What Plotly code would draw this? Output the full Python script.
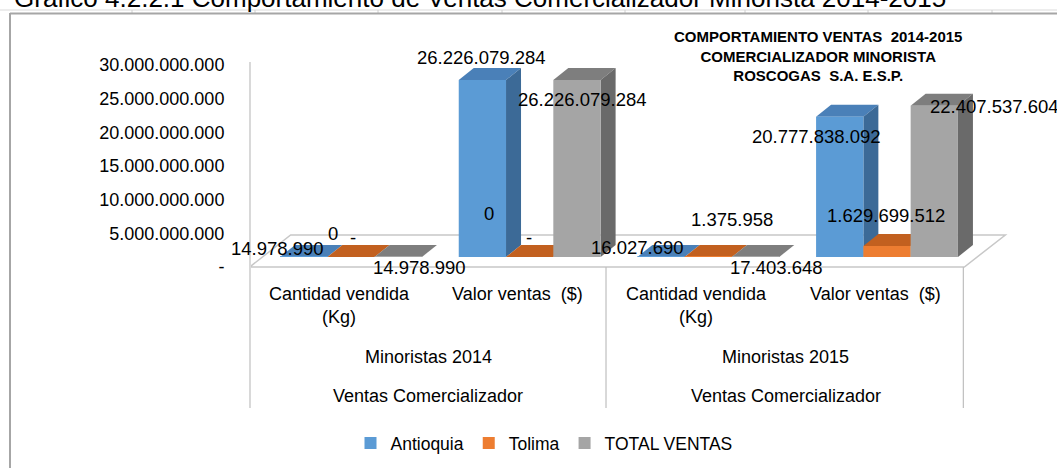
import plotly.graph_objects as go

# ---------------- data ----------------
subcategorias = ["Cantidad vendida<br>(Kg)", "Valor ventas  ($)",
                 "Cantidad vendida<br>(Kg)", "Valor ventas  ($)"]
anios = ["Minoristas 2014", "Minoristas 2015"]
grupo = "Ventas Comercializador"
series = ["Antioquia", "Tolima", "TOTAL VENTAS"]
antioquia = [14978990, 26226079284, 16027690, 20777838092]
tolima = [0, 0, 1375958, 1629699512]
total_ventas = [14978990, 26226079284, 17403648, 22407537604]
etiquetas_extra = ["0", "0", "", ""]
y_ticks = [0, 5e9, 10e9, 15e9, 20e9, 25e9, 30e9]
titulo_grafico = "Gráfico 4.2.2.1 Comportamiento de Ventas Comercializador Minorista 2014-2015"
titulo = ["COMPORTAMIENTO VENTAS  2014-2015", "COMERCIALIZADOR MINORISTA", "ROSCOGAS  S.A. E.S.P."]

# ---------------- styles / geometry ----------------
W, H = 1057, 468
FONT = "Liberation Sans"
front_col = ["#5B9BD5", "#ED7D31", "#A5A5A5"]
top_col = ["#4A80B8", "#C2601F", "#7E7E7E"]
side_col = ["#3C6A97", "#A4511A", "#6A6A6A"]

PX_X0, PX_X1 = 251, 1010        # plot area (pixels)
PX_Y0, PX_Y1 = 40, 280
CAT0_PX, CAT_STEP_PX = 351, 178.67
BASE_PX, PX_PER_UNIT = 257, 6.75e-9
LBL_BASE_PX, LBL_PX_PER_UNIT = 267, 6.73e-9
BARGAP = 0.206
DEPTH_X, DEPTH_Y = 15, 12       # 3D depth in px

def ux(px):
    return px / CAT_STEP_PX

def uy(px):
    return px / PX_PER_UNIT

def py(px):  # pixel row -> paper y
    return (H - px) / H

def pxp(px):  # pixel column -> paper x
    return px / W

def fmt(v):
    return "-" if v == 0 else f"{int(v):,}".replace(",", ".")

xrange_ = [(PX_X0 - CAT0_PX) / CAT_STEP_PX, (PX_X1 - CAT0_PX) / CAT_STEP_PX]
yrange_ = [(BASE_PX - PX_Y1) / PX_PER_UNIT, (BASE_PX - PX_Y0) / PX_PER_UNIT]
y2range_ = [(LBL_BASE_PX - PX_Y1) / LBL_PX_PER_UNIT, (LBL_BASE_PX - PX_Y0) / LBL_PX_PER_UNIT]

xs = list(range(len(subcategorias)))
valores = [antioquia, tolima, total_ventas]
bar_w = (1 - BARGAP) / len(series)
offsets = [(k - (len(series) - 1) / 2) * bar_w for k in range(len(series))]

fig = go.Figure()
for k, name in enumerate(series):
    fig.add_trace(go.Bar(x=xs, y=valores[k], name=name, marker_color=front_col[k],
                         marker_line_width=0, hoverinfo="skip"))
fig.add_trace(go.Scatter(x=[0], y=[0], yaxis="y2", mode="markers",
                         marker_opacity=0, showlegend=False, hoverinfo="skip"))

shapes = []
# floor
dxF, dxB, dyF, dyB = ux(-12), ux(29), uy(-10), uy(22)
x_left, x_right = -0.5, len(xs) - 0.5
floor_pts = [(x_left + dxF, dyF), (x_left + dxB, dyB), (x_right + dxB, dyB), (x_right + dxF, dyF)]
path = "M " + " L ".join(f"{a:.5f},{b:.1f}" for a, b in floor_pts) + " Z"
shapes.append(dict(type="path", path=path, xref="x", yref="y", layer="below",
                   line=dict(color="#C8C8C8", width=1.5), fillcolor="rgba(0,0,0,0)"))

# 3D faces (top & side) of each bar, painter's order left to right
ddx, ddy = ux(DEPTH_X), uy(DEPTH_Y)
for i in xs:
    for k in range(len(series)):
        v = valores[k][i]
        xc = i + offsets[k]
        xl, xr = xc - bar_w / 2, xc + bar_w / 2
        top = [(xl, v), (xr, v), (xr + ddx, v + ddy), (xl + ddx, v + ddy)]
        side = [(xr, 0), (xr, v), (xr + ddx, v + ddy), (xr + ddx, ddy)]
        for pts, col in ((top, top_col[k]), (side, side_col[k])):
            p = "M " + " L ".join(f"{a:.5f},{b:.1f}" for a, b in pts) + " Z"
            shapes.append(dict(type="path", path=p, xref="x", yref="y", layer="below",
                               line=dict(width=0), fillcolor=col))

# axis line and category separators
shapes.append(dict(type="line", xref="paper", yref="paper", x0=pxp(250), x1=pxp(250),
                   y0=py(62), y1=py(408), line=dict(color="#BFBFBF", width=1.2)))
for b in (1.5, 3.5):
    xpx = CAT0_PX + b * CAT_STEP_PX - 13
    shapes.append(dict(type="line", xref="paper", yref="paper", x0=pxp(xpx), x1=pxp(xpx),
                       y0=py(267), y1=py(408), line=dict(color="#BFBFBF", width=1.2)))
# chart border and spreadsheet lines
shapes.append(dict(type="line", xref="paper", yref="paper", x0=pxp(0), x1=1,
                   y0=py(10), y1=py(10), line=dict(color="#DADADA", width=1)))
for cx in (132, 255, 378, 502, 625, 745, 868, 992):
    shapes.append(dict(type="line", xref="paper", yref="paper", x0=pxp(cx), x1=pxp(cx),
                       y0=py(10), y1=py(13), line=dict(color="#D0D0D0", width=1)))
shapes.append(dict(type="line", xref="paper", yref="paper", x0=pxp(10), x1=1,
                   y0=py(13.5), y1=py(13.5), line=dict(color="#A6A6A6", width=2)))
shapes.append(dict(type="line", xref="paper", yref="paper", x0=pxp(10), x1=pxp(10),
                   y0=py(13), y1=0, line=dict(color="#A6A6A6", width=2)))

annotations = []
# data labels: (xshift, yshift) per bar
label_shift = [
    [(-26, 8), (-1, 22), (-24, 9), (-23, -20)],
    [(2, 20), (-1, 20), (24, 37), (-1, 31)],
    [(21, -11), (6, -20), (21, -11), (60, -1)],
]
extra_shift = [(-18, 24), (-41, 44), (0, 0), (0, 0)]
LBL_FONT = dict(family=FONT, size=18.5, color="#000000")
for k in range(len(series)):
    for i in xs:
        v = valores[k][i]
        sx, sy = label_shift[k][i]
        annotations.append(dict(x=i + offsets[k], y=v, xref="x", yref="y", text=fmt(v),
                                showarrow=False, xshift=sx, yshift=sy, font=LBL_FONT,
                                xanchor="center", yanchor="middle"))
for i in xs:
    if etiquetas_extra[i]:
        sx, sy = extra_shift[i]
        annotations.append(dict(x=i + offsets[1], y=tolima[i], xref="x", yref="y",
                                text=etiquetas_extra[i], showarrow=False, xshift=sx, yshift=sy,
                                font=LBL_FONT, xanchor="center", yanchor="middle"))

# category labels (3 levels)
CAT_FONT = dict(family=FONT, size=18, color="#000000")
for i, lab in enumerate(subcategorias):
    annotations.append(dict(x=i, y=py(282), xref="x", yref="paper", text=lab, showarrow=False,
                            xshift=-12, xanchor="center", yanchor="top", font=CAT_FONT))
for j, lab in enumerate(anios):
    annotations.append(dict(x=2 * j + 0.5, y=py(357), xref="x", yref="paper", text=lab,
                            showarrow=False, xshift=-12, xanchor="center", yanchor="middle",
                            font=CAT_FONT))
    annotations.append(dict(x=2 * j + 0.5, y=py(396), xref="x", yref="paper", text=grupo,
                            showarrow=False, xshift=-12, xanchor="center", yanchor="middle",
                            font=CAT_FONT))
# chart title
annotations.append(dict(x=pxp(818), y=py(56), xref="paper", yref="paper",
                        text="<br>".join(f"<b>{t}</b>" for t in titulo), showarrow=False,
                        xanchor="center", yanchor="middle", align="center",
                        font=dict(family=FONT, size=15, color="#000000")))
# clipped document heading
annotations.append(dict(x=pxp(12), y=py(-2.5), xref="paper", yref="paper", text=titulo_grafico,
                        showarrow=False, xanchor="left", yanchor="middle",
                        font=dict(family=FONT, size=26, color="#000000")))

fig.update_layout(
    width=W, height=H,
    margin=dict(l=0, r=0, t=0, b=0, autoexpand=False),
    paper_bgcolor="white", plot_bgcolor="rgba(0,0,0,0)",
    separators=",.",
    barmode="group", bargap=BARGAP, bargroupgap=0,
    font=dict(family=FONT, size=18, color="#000000"),
    xaxis=dict(domain=[pxp(PX_X0), pxp(PX_X1)], range=xrange_, showticklabels=False,
               showgrid=False, zeroline=False, showline=False, ticks=""),
    yaxis=dict(domain=[py(PX_Y1), py(PX_Y0)], range=yrange_, showticklabels=False,
               showgrid=False, zeroline=False, showline=False, ticks=""),
    yaxis2=dict(overlaying="y", anchor="x", side="left", range=y2range_,
                tickvals=y_ticks, ticktext=[fmt(v) for v in y_ticks],
                showgrid=False, zeroline=False, showline=False,
                ticks="outside", ticklen=22, tickcolor="rgba(0,0,0,0)",
                tickfont=dict(family=FONT, size=18, color="#000000")),
    legend=dict(orientation="h", x=pxp(544), xanchor="center", y=py(443), yanchor="middle",
                font=dict(family=FONT, size=17.5, color="#000000"), bgcolor="rgba(0,0,0,0)",
                itemclick=False, itemdoubleclick=False, tracegroupgap=0),
    shapes=shapes, annotations=annotations,
    showlegend=True,
)

fig.write_html("out.html", config={"displayModeBar": False},
               post_script="document.body.style.margin='0px';document.body.style.overflow='hidden';")
